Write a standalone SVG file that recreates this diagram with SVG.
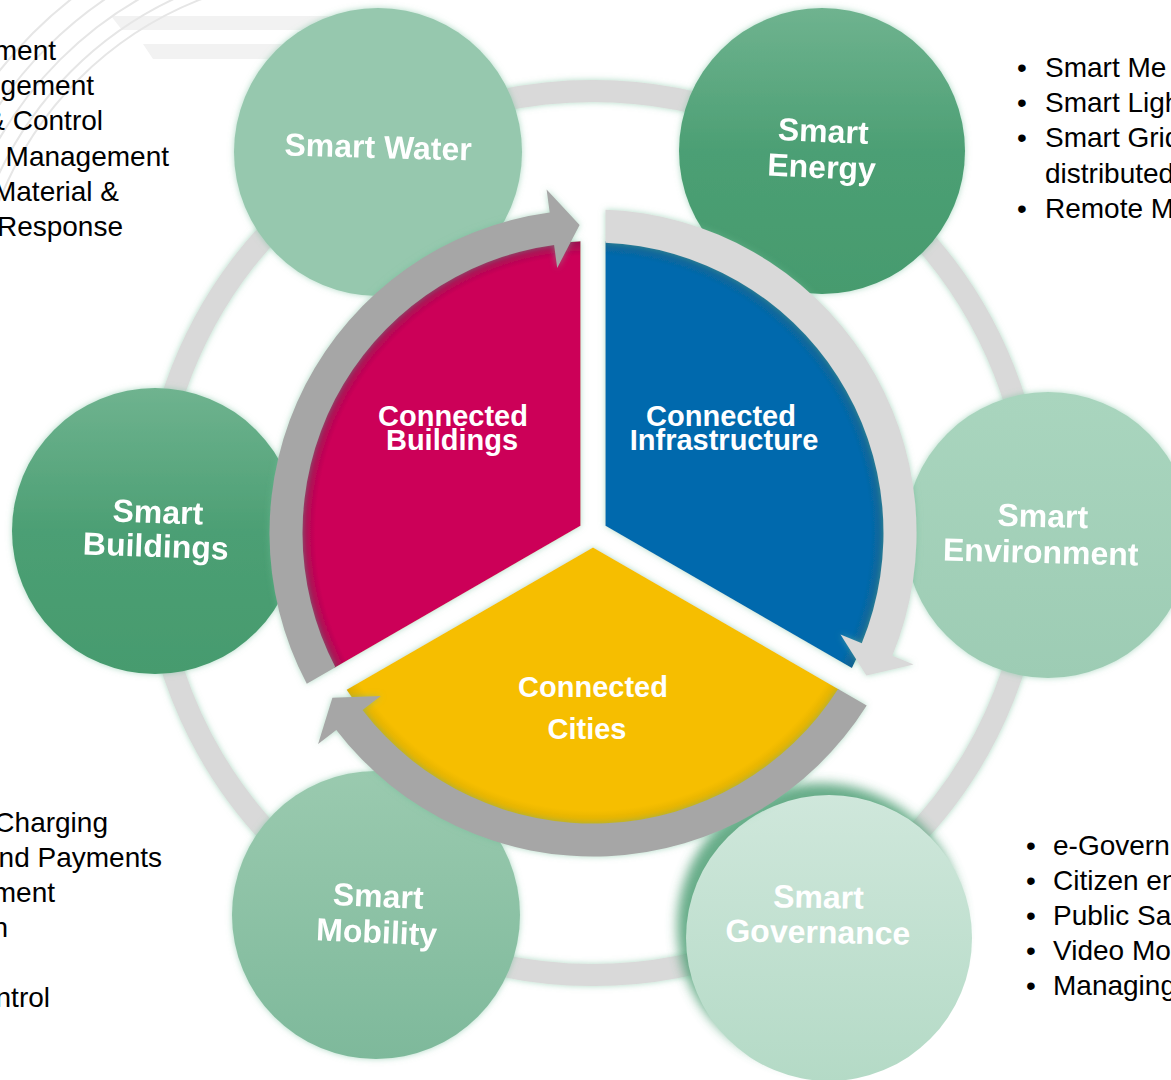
<svg xmlns="http://www.w3.org/2000/svg" width="1171" height="1080" viewBox="0 0 1171 1080">
<defs>
<style>
.bul{font-family:"Liberation Sans",Arial,sans-serif;font-size:28px;fill:#000}
.lbl{font-family:"Liberation Sans",Arial,sans-serif;font-weight:bold;font-size:32px;fill:#fff;text-anchor:middle}
.clbl{font-family:"Liberation Sans",Arial,sans-serif;font-weight:bold;font-size:29px;fill:#fff;text-anchor:middle}
.deco{fill:none;stroke:#e6e6e6;stroke-width:2}
</style>
<filter id="glow" x="-15%" y="-15%" width="130%" height="130%">
<feGaussianBlur in="SourceAlpha" stdDeviation="3" result="b"/>
<feFlood flood-color="#6dbb95" flood-opacity="0.55"/>
<feComposite in2="b" operator="in" result="g"/>
<feMerge><feMergeNode in="g"/><feMergeNode in="SourceGraphic"/></feMerge>
</filter>
<filter id="soft" x="-20%" y="-20%" width="140%" height="140%">
<feGaussianBlur stdDeviation="6"/>
</filter>
<linearGradient id="gDark" x1="0" y1="0" x2="0" y2="1">
<stop offset="0" stop-color="#6fb38f"/><stop offset="0.5" stop-color="#4c9f74"/><stop offset="1" stop-color="#469b6e"/>
</linearGradient>
<linearGradient id="gMob" x1="0" y1="0" x2="0" y2="1">
<stop offset="0" stop-color="#9acaaf"/><stop offset="1" stop-color="#7eb99b"/>
</linearGradient>
<linearGradient id="gEnv" x1="0" y1="0" x2="0" y2="1">
<stop offset="0" stop-color="#a9d5be"/><stop offset="1" stop-color="#9dccb4"/>
</linearGradient>
<linearGradient id="gGov" x1="0" y1="0" x2="0" y2="1">
<stop offset="0" stop-color="#cfe7db"/><stop offset="1" stop-color="#b4dac6"/>
</linearGradient>
<radialGradient id="rRed" cx="593" cy="533" r="292" gradientUnits="userSpaceOnUse">
<stop offset="0.95" stop-color="#cc0058"/><stop offset="1" stop-color="#9c1250"/>
</radialGradient>
<radialGradient id="rBlue" cx="593" cy="533" r="292" gradientUnits="userSpaceOnUse">
<stop offset="0.95" stop-color="#0569ad"/><stop offset="1" stop-color="#0a6390"/>
</radialGradient>
<radialGradient id="rYel" cx="593" cy="533" r="292" gradientUnits="userSpaceOnUse">
<stop offset="0.95" stop-color="#f6be00"/><stop offset="1" stop-color="#dcae05"/>
</radialGradient>
<clipPath id="tl"><rect x="0" y="0" width="240" height="260"/></clipPath>
</defs>

<rect width="1171" height="1080" fill="#fff"/>

<g id="background-decoration">
<polygon points="111,16 340,16 340,30 122,30" fill="#f2f2f2"/>
<polygon points="143,44 340,44 340,59 153,59" fill="#f2f2f2"/>
<g clip-path="url(#tl)">
<circle class="deco" cx="330" cy="330" r="420"/>
<circle class="deco" cx="330" cy="330" r="400"/>
<circle class="deco" cx="330" cy="330" r="382"/>
<circle class="deco" cx="330" cy="330" r="366"/>
<circle class="deco" cx="330" cy="330" r="355"/>
</g>
</g>

<g id="text-water">
<text class="bul" text-anchor="end"><tspan x="56" y="60">ment</tspan><tspan x="94" y="95">gement</tspan><tspan x="103" y="130">&amp; Control</tspan><tspan x="169" y="166">Management</tspan><tspan x="119" y="201">Material &amp;</tspan><tspan x="123" y="236">Response</tspan></text>
</g>
<g id="text-mobility">
<text class="bul" text-anchor="end"><tspan x="108" y="832">Charging</tspan><tspan x="162" y="867">nd Payments</tspan><tspan x="55" y="902">ment</tspan><tspan x="8" y="937">n</tspan><tspan x="50" y="1007">ntrol</tspan></text>
</g>
<g id="text-energy">
<text class="bul"><tspan x="1017" y="77">•</tspan><tspan x="1017" y="112">•</tspan><tspan x="1017" y="147">•</tspan><tspan x="1017" y="218">•</tspan></text>
<text class="bul"><tspan x="1045" y="77">Smart Me</tspan><tspan x="1045" y="112">Smart Ligh</tspan><tspan x="1045" y="147">Smart Grid</tspan><tspan x="1045" y="183">distributed</tspan><tspan x="1045" y="218">Remote M</tspan></text>
</g>
<g id="text-governance">
<text class="bul"><tspan x="1026" y="855">•</tspan><tspan x="1026" y="890">•</tspan><tspan x="1026" y="925">•</tspan><tspan x="1026" y="960">•</tspan><tspan x="1026" y="995">•</tspan></text>
<text class="bul"><tspan x="1053" y="855">e-Govern</tspan><tspan x="1053" y="890">Citizen en</tspan><tspan x="1053" y="925">Public Sa</tspan><tspan x="1053" y="960">Video Mo</tspan><tspan x="1053" y="995">Managing</tspan></text>
</g>

<g id="connectors">
<circle cx="593" cy="533" r="442" fill="none" stroke="#d9d9d9" stroke-width="22" filter="url(#glow)"/>
</g>

<g id="node-smart-water" filter="url(#glow)">
<circle cx="378" cy="152" r="144" fill="#96c8ae"/>
<text class="lbl" x="378" y="158" font-size="31" transform="rotate(1.5 378 150)">Smart Water</text>
</g>
<g id="node-smart-energy" filter="url(#glow)">
<circle cx="822" cy="151" r="143" fill="url(#gDark)"/>
<text class="lbl" transform="rotate(2.5 822 160)"><tspan x="822" y="142">Smart</tspan><tspan x="822" y="178">Energy</tspan></text>
</g>
<g id="node-smart-environment" filter="url(#glow)">
<circle cx="1048" cy="535" r="143" fill="url(#gEnv)"/>
<text class="lbl" transform="rotate(1.5 1042 545)"><tspan x="1042" y="527">Smart</tspan><tspan x="1041" y="563">Environment</tspan></text>
</g>
<g id="node-smart-governance">
<circle cx="820" cy="926" r="143" fill="#4e9f74" opacity="0.85" filter="url(#soft)"/>
<circle cx="829" cy="938" r="143" fill="url(#gGov)"/>
<text class="lbl" transform="rotate(1 818 925)"><tspan x="818" y="908">Smart</tspan><tspan x="818" y="943">Governance</tspan></text>
</g>
<g id="node-smart-mobility" filter="url(#glow)">
<circle cx="376" cy="915" r="144" fill="url(#gMob)"/>
<text class="lbl" transform="rotate(2.5 377 925)"><tspan x="377" y="907">Smart</tspan><tspan x="377" y="943">Mobility</tspan></text>
</g>
<g id="node-smart-buildings" filter="url(#glow)">
<circle cx="155" cy="531" r="143" fill="url(#gDark)"/>
<text class="lbl" transform="rotate(2 156 540)"><tspan x="157" y="523">Smart</tspan><tspan x="156" y="557">Buildings</tspan></text>
</g>

<g id="node-connected-buildings">
<path d="M580.5 241.3 A292 292 0 0 0 334.1 668.05 L580.5 525.8 Z" fill="url(#rRed)" filter="url(#glow)"/>
<text class="clbl"><tspan x="453" y="426">Connected</tspan><tspan x="452" y="450">Buildings</tspan></text>
</g>
<g id="node-connected-infrastructure">
<path d="M605.5 241.3 A292 292 0 0 1 851.9 668.05 L605.5 525.8 Z" fill="url(#rBlue)" filter="url(#glow)"/>
<text class="clbl"><tspan x="721" y="426">Connected</tspan><tspan x="724" y="450">Infrastructure</tspan></text>
</g>
<g id="node-connected-cities">
<path d="M839.4 689.7 A292 292 0 0 1 346.6 689.7 L593 547.4 Z" fill="url(#rYel)" filter="url(#glow)"/>
<text class="clbl"><tspan x="593" y="697">Connected</tspan><tspan x="587" y="739">Cities</tspan></text>
</g>

<g id="cycle-arrows" filter="url(#glow)">
<path d="M306.8 683.8 A323.5 323.5 0 0 1 549.7 212.4 L546.6 189.6 L579.6 225 L557.2 267.9 L554.1 245.1 A290.5 290.5 0 0 0 335.4 667.3 Z" fill="#a6a6a6"/>
<path d="M866.7 705.4 A323.5 323.5 0 0 1 336.3 729.9 L318.1 743.9 L332.4 697.7 L380.8 695.9 L362.5 709.9 A290.5 290.5 0 0 0 838.1 688.9 Z" fill="#a6a6a6"/>
<path d="M605.5 209.7 A323.5 323.5 0 0 1 892.3 655.8 L913.6 664.5 L866.4 675.4 L840.5 634.5 L861.8 643.2 A290.5 290.5 0 0 0 605.5 242.8 Z" fill="#d9d9d9"/>
</g>
</svg>
